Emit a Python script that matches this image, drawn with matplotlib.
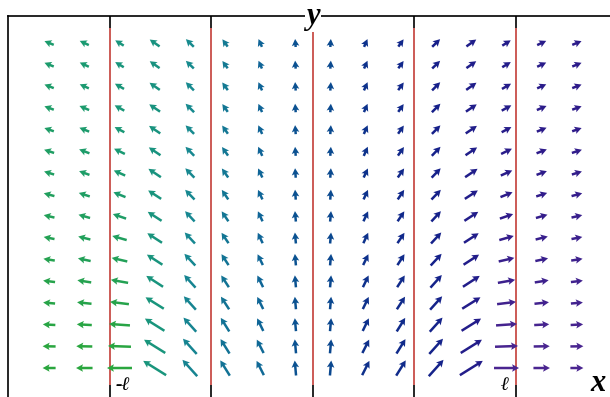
import numpy as np
import matplotlib
matplotlib.use('Agg')
import matplotlib.pyplot as plt
from matplotlib.colors import LinearSegmentedColormap, Normalize

# grid of the field (x in units of l), top row first
x_vals = np.linspace(-1.3, 1.3, 16)
y_vals = np.linspace(1.6, 0.1, 16)

# arrow direction [deg] per column of the left half, rows top -> bottom
angle_left = [
  [158, 158, 159, 160, 161, 162, 163, 165, 167, 169, 171, 173, 175, 177, 179, 180],
  [155, 155, 156, 157, 158, 159, 160, 162, 164, 166, 168, 171, 174, 177, 179, 180],
  [148, 149, 150, 151, 152, 154, 156, 158, 161, 164, 167, 170, 173, 176, 178, 180],
  [145, 145, 145, 146, 146, 146, 146, 147, 147, 147, 147, 147, 148, 148, 148, 148],
  [136, 136, 135, 135, 135, 134, 134, 134, 133, 133, 133, 132, 132, 132, 132, 132],
  [126, 126, 126, 125, 125, 125, 125, 124, 124, 124, 123, 123, 123, 122, 122, 122],
  [114, 114, 114, 114, 114, 114, 115, 115, 115, 115, 116, 116, 116, 116, 117, 117],
  [ 94,  94,  94,  94,  94,  94,  94,  94,  95,  95,  95,  95,  95,  95,  95,  95],
]
# arrow length [px] per column of the left half, rows top -> bottom
length_left = [
  [10, 10, 10, 10, 10, 10.5, 10.5, 11, 11, 11, 11.5, 12, 12, 12.5, 13, 13],
  [10, 10, 10, 10.5, 10.5, 11, 11, 11.5, 12, 12.5, 13, 14, 14.5, 15, 16, 16.5],
  [10, 10, 10.5, 11, 11, 12, 12.5, 13, 14, 15, 16, 17.5, 19, 21, 23, 25],
  [12, 12, 12.5, 13, 13.5, 14, 15, 15.5, 16.5, 17.5, 18.5, 20, 21.5, 23, 25, 27],
  [11, 11, 11.5, 12, 12, 12.5, 13, 13.5, 14, 15, 16, 17, 18, 19, 20.5, 22],
  [9, 9, 9.5, 9.5, 10, 10.5, 11, 11.5, 12, 12.5, 13, 14, 15, 16, 17, 18],
  [8.5, 8.5, 9, 9, 9.5, 10, 10, 10.5, 11, 11.5, 12, 13, 13.5, 14, 15, 16],
  [8, 8, 8.5, 8.5, 9, 9, 9.5, 10, 10.5, 11, 11.5, 12, 12.5, 13, 14, 15],
]

# the field is mirror symmetric about x = 0
angle_right = [[180 - a for a in col] for col in angle_left[::-1]]
length_right = [list(col) for col in length_left[::-1]]

line_x = [-1.0, -0.5, 0.0, 0.5, 1.0]
line_labels = ['-\u2113', '\u2113']

ang = np.array(angle_left + angle_right, dtype=float).T
lng = np.array(length_left + length_right, dtype=float).T
X, Y = np.meshgrid(x_vals, y_vals)
U = lng * np.cos(np.radians(ang))
V = lng * np.sin(np.radians(ang))

# colour follows the direction of the arrow
cmap = LinearSegmentedColormap.from_list('dir', [
  (0.0, '#4a2590'), (20/180, '#2e1b8a'), (45/180, '#16208a'), (70/180, '#0b368c'),
  (90/180, '#0a4d90'), (115/180, '#0f6597'), (135/180, '#178a90'),
  (155/180, '#1a9a72'), (1.0, '#2aa63e')])

fig = plt.figure(figsize=(6.1, 3.97), dpi=100)
ax = fig.add_axes([8/610, -2/397, 604/610, 383/397])
ax.set_xlim(-1.5025, 1.473)
ax.set_ylim(-0.043, 1.7245)

serif = ['Liberation Serif', 'DejaVu Serif']

ax.vlines(line_x, 0.022, 1.67, color='#cc5a55', lw=1.4, zorder=1)
ax.vlines(line_x, 1.67, 1.7245, color='k', lw=1.2, zorder=1)
ax.vlines(line_x, -0.043, 0.022, color='k', lw=1.2, zorder=1)

ax.quiver(X, Y, U, V, ang, cmap=cmap, norm=Normalize(0, 180),
          units='dots', scale_units='dots', scale=1, angles='uv', pivot='middle',
          width=2.5, headwidth=3.0, headlength=2.8, headaxislength=2.4, zorder=3)

for sp in ['right', 'bottom']:
  ax.spines[sp].set_visible(False)
for sp in ['left', 'top']:
  ax.spines[sp].set_linewidth(1.2)
ax.set_xticks([])
ax.set_yticks([])

ax.text(0.0, 1.7245, 'y', fontsize=22, fontweight='bold', style='italic', family=serif,
        ha='center', va='center', bbox=dict(fc='white', ec='none', pad=1), zorder=5, clip_on=False)
ax.text(1.404, 0.03, 'x', fontsize=22, fontweight='bold', style='italic', family=serif,
        ha='center', va='center', zorder=5)
ax.text(-0.97, 0.02, line_labels[0], fontsize=14, fontweight='bold', style='italic', family=serif,
        ha='left', va='center', zorder=5)
ax.text(0.945, 0.02, line_labels[1], fontsize=14, fontweight='bold', style='italic', family=serif,
        ha='center', va='center', zorder=5)

fig.savefig('out.png', dpi=100, facecolor='white')
